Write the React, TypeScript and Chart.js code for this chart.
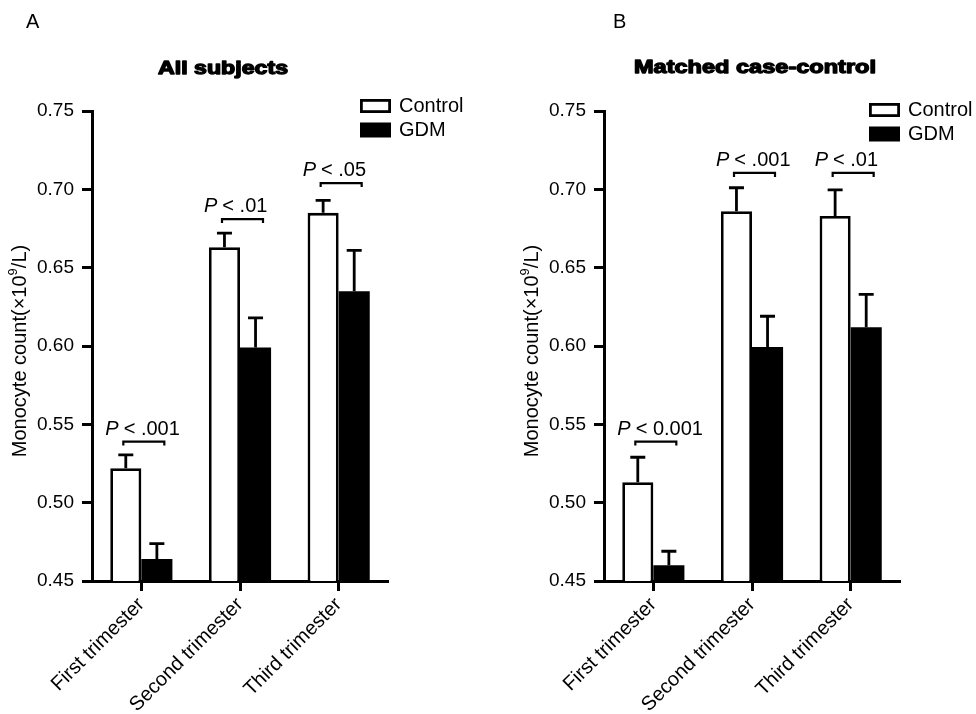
import React, { useEffect, useRef } from 'react';
import { Chart, registerables } from 'chart.js';

Chart.register(...registerables);

const categories = ['First trimester', 'Second trimester', 'Third trimester'];
const yTicks = [0.45, 0.5, 0.55, 0.6, 0.65, 0.7, 0.75];
const seriesNames = ['Control', 'GDM'];

const allControl = [0.522, 0.663, 0.685];
const allControlErr = [0.0085, 0.009, 0.008];
const allGdm = [0.464, 0.599, 0.635];
const allGdmErr = [0.0098, 0.019, 0.026];
const allPText = ['< .001', '< .01', '< .05'];
const allBracket = [0.539, 0.681, 0.704];

const matchedControl = [0.513, 0.686, 0.683];
const matchedControlErr = [0.016, 0.015, 0.0167];
const matchedGdm = [0.46, 0.5994, 0.612];
const matchedGdmErr = [0.009, 0.0196, 0.021];
const matchedPText = ['< 0.001', '< .001', '< .01'];
const matchedBracket = [0.539, 0.7105, 0.7105];

const FONT = '"Liberation Sans", Arial, Helvetica, sans-serif';
const W = 976;
const H = 714;

type Panel = {
  letter: string;
  title: string;
  control: number[];
  controlErr: number[];
  gdm: number[];
  gdmErr: number[];
  pText: string[];
  bracket: number[];
  padLeft: number;
  padRight: number;
  letterX: number;
  titleX: number;
  titleY: number;
  titleW: number;
  legendX: number;
  legendY: number;
  yTitleX: number;
};

const panels: Panel[] = [
  {
    letter: 'A', title: 'All subjects',
    control: allControl, controlErr: allControlErr, gdm: allGdm, gdmErr: allGdmErr,
    pText: allPText, bracket: allBracket,
    padLeft: 0, padRight: W - 388,
    letterX: 26, titleX: 223, titleY: 69, titleW: 132,
    legendX: 360, legendY: 99, yTitleX: 20,
  },
  {
    letter: 'B', title: 'Matched case-control',
    control: matchedControl, controlErr: matchedControlErr, gdm: matchedGdm, gdmErr: matchedGdmErr,
    pText: matchedPText, bracket: matchedBracket,
    padLeft: 604 - 92, padRight: W - 900,
    letterX: 613, titleX: 755, titleY: 68, titleW: 244,
    legendX: 869, legendY: 103, yTitleX: 532,
  },
];

function makePlugin(p: Panel) {
  return {
    id: 'decor' + p.letter,
    afterDatasetsDraw(chart: any) {
      const ctx = chart.ctx;
      const ys = chart.scales.y;
      const xs = chart.scales.x;
      ctx.save();
      ctx.strokeStyle = '#000';
      ctx.lineWidth = 2.8;
      ctx.lineCap = 'butt';
      [p.control, p.gdm].forEach((vals, di) => {
        const errs = di === 0 ? p.controlErr : p.gdmErr;
        const meta = chart.getDatasetMeta(di);
        meta.data.forEach((bar: any, i: number) => {
          const bx = bar.x;
          const top = ys.getPixelForValue(vals[i]);
          const et = ys.getPixelForValue(vals[i] + errs[i]);
          ctx.beginPath();
          ctx.moveTo(bx, top);
          ctx.lineTo(bx, et);
          ctx.moveTo(bx - 7.5, et);
          ctx.lineTo(bx + 7.5, et);
          ctx.stroke();
        });
      });
      ctx.lineWidth = 2.2;
      categories.forEach((_c, i) => {
        const cx = xs.getPixelForValue(i);
        const by = ys.getPixelForValue(p.bracket[i]);
        ctx.beginPath();
        ctx.moveTo(cx - 18, by + 4);
        ctx.lineTo(cx - 18, by);
        ctx.lineTo(cx + 23, by);
        ctx.lineTo(cx + 23, by + 4);
        ctx.stroke();
        ctx.fillStyle = '#000';
        ctx.textBaseline = 'alphabetic';
        ctx.textAlign = 'left';
        let tx = cx - 36;
        ctx.font = `italic 20px ${FONT}`;
        ctx.fillText('P', tx, by - 7);
        tx += ctx.measureText('P').width + 5;
        ctx.font = `20px ${FONT}`;
        ctx.fillText(p.pText[i], tx, by - 7);
      });
      ctx.restore();
    },
    afterDraw(chart: any) {
      const ctx = chart.ctx;
      const area = chart.chartArea;
      ctx.save();
      ctx.fillStyle = '#000';
      // panel letter
      ctx.font = `20px ${FONT}`;
      ctx.textAlign = 'left';
      ctx.textBaseline = 'middle';
      ctx.fillText(p.letter, p.letterX, 22);
      // title (heavy, stretched)
      ctx.font = `bold 18px ${FONT}`;
      const tw = ctx.measureText(p.title).width;
      ctx.save();
      ctx.translate(p.titleX, p.titleY);
      ctx.scale(p.titleW / (tw + 1.5), 1);
      ctx.textAlign = 'center';
      ctx.lineJoin = 'round';
      ctx.lineWidth = 1.3;
      ctx.strokeStyle = '#000';
      ctx.fillText(p.title, 0, 0);
      ctx.strokeText(p.title, 0, 0);
      ctx.restore();
      // legend
      ctx.lineWidth = 2.8;
      ctx.strokeStyle = '#000';
      seriesNames.forEach((name, i) => {
        const by = p.legendY + i * 23.5;
        if (i === 0) {
          ctx.fillStyle = '#fff';
          ctx.fillRect(p.legendX, by, 31, 14);
          ctx.strokeRect(p.legendX + 1.4, by + 1.4, 28.2, 11.2);
        } else {
          ctx.fillStyle = '#000';
          ctx.fillRect(p.legendX, by, 31, 15);
        }
        ctx.fillStyle = '#000';
        ctx.font = `20px ${FONT}`;
        ctx.textAlign = 'left';
        ctx.textBaseline = 'middle';
        ctx.fillText(name, p.legendX + 39, by + 7.5);
      });
      // y title
      ctx.save();
      const cy = (area.top + area.bottom) / 2 + 5;
      ctx.translate(p.yTitleX, cy);
      ctx.rotate(-Math.PI / 2);
      ctx.textBaseline = 'middle';
      ctx.textAlign = 'left';
      const part1 = 'Monocyte count(×10';
      const sup = '9';
      const part2 = '/L)';
      ctx.font = `20px ${FONT}`;
      const w1 = ctx.measureText(part1).width;
      const w3 = ctx.measureText(part2).width;
      ctx.font = `13px ${FONT}`;
      const w2 = ctx.measureText(sup).width;
      const total = w1 + w2 + w3;
      let x0 = -total / 2;
      ctx.font = `20px ${FONT}`;
      ctx.fillText(part1, x0, 0);
      x0 += w1;
      ctx.font = `13px ${FONT}`;
      ctx.fillText(sup, x0, -7);
      x0 += w2;
      ctx.font = `20px ${FONT}`;
      ctx.fillText(part2, x0, 0);
      ctx.restore();
      ctx.restore();
    },
  };
}

function PanelChart({ p }: { p: Panel }) {
  const ref = useRef<HTMLCanvasElement | null>(null);
  useEffect(() => {
    if (!ref.current) return;
    const chart = new Chart(ref.current, {
      type: 'bar',
      data: {
        labels: categories,
        datasets: [
          {
            label: seriesNames[0],
            data: p.control,
            backgroundColor: '#ffffff',
            borderColor: '#000000',
            borderWidth: 2.8,
            borderSkipped: 'bottom',
          },
          {
            label: seriesNames[1],
            data: p.gdm,
            backgroundColor: '#000000',
            borderColor: '#000000',
            borderWidth: 0,
          },
        ],
      },
      options: {
        responsive: false,
        animation: false,
        devicePixelRatio: 1,
        datasets: { bar: { categoryPercentage: 0.63, barPercentage: 1 } },
        layout: { padding: { left: p.padLeft, right: p.padRight, top: 111, bottom: 0 } },
        plugins: { legend: { display: false }, title: { display: false }, tooltip: { enabled: false } },
        events: [],
        scales: {
          x: {
            type: 'category',
            offset: true,
            grid: {
              display: true,
              drawOnChartArea: false,
              drawTicks: true,
              tickLength: 10,
              tickWidth: 3,
              tickColor: '#000',
              offset: false,
            },
            border: { display: true, color: '#000', width: 3 },
            ticks: {
              color: '#000',
              font: { family: FONT, size: 20 },
              minRotation: 45,
              maxRotation: 45,
              autoSkip: false,
              padding: 2,
              labelOffset: 0,
            },
            afterFit: (s: any) => { s.height = H - 581; },
          },
          y: {
            type: 'linear',
            min: 0.45,
            max: 0.75,
            grid: {
              display: true,
              drawOnChartArea: false,
              drawTicks: true,
              tickLength: 10,
              tickWidth: 3,
              tickColor: '#000',
            },
            border: { display: true, color: '#000', width: 3 },
            ticks: {
              color: '#000',
              font: { family: FONT, size: 19 },
              padding: 8,
              callback: (v: any) => Number(v).toFixed(2),
            },
            afterBuildTicks: (s: any) => { s.ticks = yTicks.map((v) => ({ value: v })); },
            afterFit: (s: any) => { s.width = 92; },
          },
        },
      },
      plugins: [makePlugin(p)],
    } as any);
    return () => chart.destroy();
  }, [p]);
  return (
    <canvas
      ref={ref}
      width={W}
      height={H}
      style={{ position: 'absolute', left: 0, top: 0, width: W, height: H }}
    />
  );
}

export default function App() {
  return (
    <div style={{ position: 'fixed', left: 0, top: 0, width: W, height: H, background: '#fff', overflow: 'hidden' }}>
      {panels.map((p) => (
        <PanelChart key={p.letter} p={p} />
      ))}
    </div>
  );
}
